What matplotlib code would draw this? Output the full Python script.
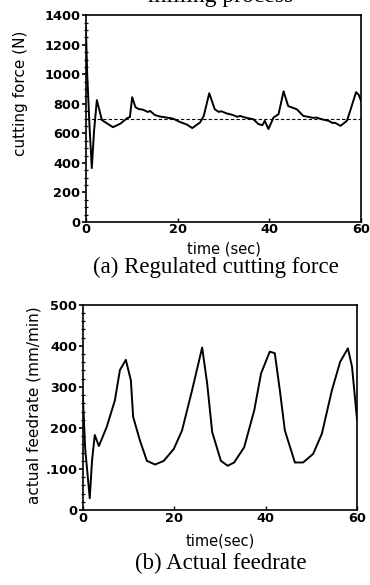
import matplotlib
matplotlib.use("Agg")
import matplotlib.pyplot as plt
from matplotlib.ticker import MultipleLocator
from matplotlib.font_manager import FontProperties

# ---- data ----
force_t = [0.0, 0.3, 0.8, 1.3, 1.8, 2.4, 3.5, 4.5, 5.9, 7.5, 9.0, 9.6, 10.1, 10.8,
           11.5, 12.5, 13.5, 14.0, 15.0, 16.0, 17.6, 19.0, 20.6, 22.0, 23.2, 24.9,
           25.7, 26.9, 28.1, 29.0, 29.5, 30.7, 32.0, 33.0, 33.6, 35.0, 36.5, 37.6,
           38.5, 39.0, 39.8, 40.9, 42.0, 43.1, 44.1, 46.0, 47.4, 48.5, 49.5, 50.3,
           51.5, 52.9, 53.8, 54.3, 55.5, 56.9, 57.5, 58.9, 59.5, 60.0]
force_v = [1320, 1000, 650, 365, 620, 825, 690, 670, 642, 665, 703, 710, 845, 778,
           765, 760, 745, 752, 725, 715, 707, 700, 676, 660, 636, 674,
           718, 872, 763, 745, 750, 735, 725, 712, 718, 705, 696, 663,
           656, 685, 629, 707, 730, 885, 785, 763, 718, 712, 705, 707,
           695, 685, 670, 672, 651, 685, 741, 879, 860, 819]
ref_force = 700

feed_t = [0.0, 0.5, 1.5, 2.0, 2.6, 3.5, 4.2, 5.2, 7.0, 8.1, 9.4, 10.5, 11.0, 12.5,
          14.0, 15.8, 17.7, 19.9, 21.7, 23.9, 26.1, 27.2, 28.3, 30.2, 31.7, 33.1,
          35.3, 37.5, 39.0, 40.9, 42.0, 43.1, 44.2, 46.4, 48.2, 50.4, 52.3, 54.5,
          56.3, 58.0, 58.9, 60.0]
feed_v = [275, 150, 29, 120, 183, 156, 175, 202, 267, 341, 366, 316, 227, 169,
          120, 111, 120, 149, 194, 292, 396, 308, 190, 120, 108, 116,
          153, 243, 333, 386, 382, 292, 194, 116, 116, 137, 186, 292,
          361, 394, 349, 220]

x_ticks = [0, 20, 40, 60]
force_ticks = [0, 200, 400, 600, 800, 1000, 1200, 1400]
feed_ticks = [0, 100, 200, 300, 400, 500]
feed_tick_labels = ["0", ".100", "200", "300", "400", "500"]

fig = plt.figure(figsize=(3.7, 5.85), dpi=100)

tick_fp = FontProperties(family="DejaVu Sans", weight="bold", size=9.3)
label_fp = FontProperties(family="DejaVu Sans", size=11)
serif = "Liberation Serif"


def style(ax):
    for s in ax.spines.values():
        s.set_linewidth(1.2)
    ax.tick_params(axis="y", which="major", direction="out", length=3, width=1.2, pad=1)
    ax.tick_params(axis="y", which="minor", direction="inout", length=3, width=0.9)
    ax.tick_params(axis="x", which="major", direction="in", length=3, width=1.0, pad=1)
    for lab in ax.get_xticklabels() + ax.get_yticklabels():
        lab.set_fontproperties(tick_fp)


# ---- top panel ----
ax1 = fig.add_axes([0.232, 0.6205, 0.744, 0.3535])
ax1.plot(force_t, force_v, color="black", lw=1.4)
ax1.axhline(ref_force, color="black", lw=0.8, ls=(0, (3, 2)))
ax1.set_xlim(0, 60)
ax1.set_ylim(0, 1400)
ax1.set_xticks(x_ticks)
ax1.set_yticks(force_ticks)
ax1.yaxis.set_minor_locator(MultipleLocator(50))
ax1.set_ylabel("cutting force (N)", fontproperties=label_fp)
ax1.yaxis.set_label_coords(-0.211, 0.62)
style(ax1)

fig.text(0.595, 1 - 2 / 585, "milling process", ha="center", va="baseline",
         family=serif, fontsize=17)
fig.text(0.605, 1 - 249 / 585, "time (sec)", ha="center", va="center",
         family="DejaVu Sans", fontsize=10.5)
fig.text(0.584, 1 - 267 / 585, "(a) Regulated cutting force", ha="center", va="center",
         family=serif, fontsize=16.5)

# ---- bottom panel ----
ax2 = fig.add_axes([0.224, 0.128, 0.741, 0.351])
ax2.plot(feed_t, feed_v, color="black", lw=1.4)
ax2.set_xlim(0, 60)
ax2.set_ylim(0, 500)
ax2.set_xticks(x_ticks)
ax2.set_yticks(feed_ticks)
ax2.set_yticklabels(feed_tick_labels)
ax2.yaxis.set_minor_locator(MultipleLocator(20))
ax2.set_ylabel("actual feedrate (mm/min)", fontproperties=label_fp)
ax2.yaxis.set_label_coords(-0.15, 0.51)
style(ax2)

fig.text(0.595, 1 - 541 / 585, "time(sec)", ha="center", va="center",
         family="DejaVu Sans", fontsize=10.5)
fig.text(0.597, 1 - 563 / 585, "(b) Actual feedrate", ha="center", va="center",
         family=serif, fontsize=16.5)

fig.savefig("out.png", dpi=100)
